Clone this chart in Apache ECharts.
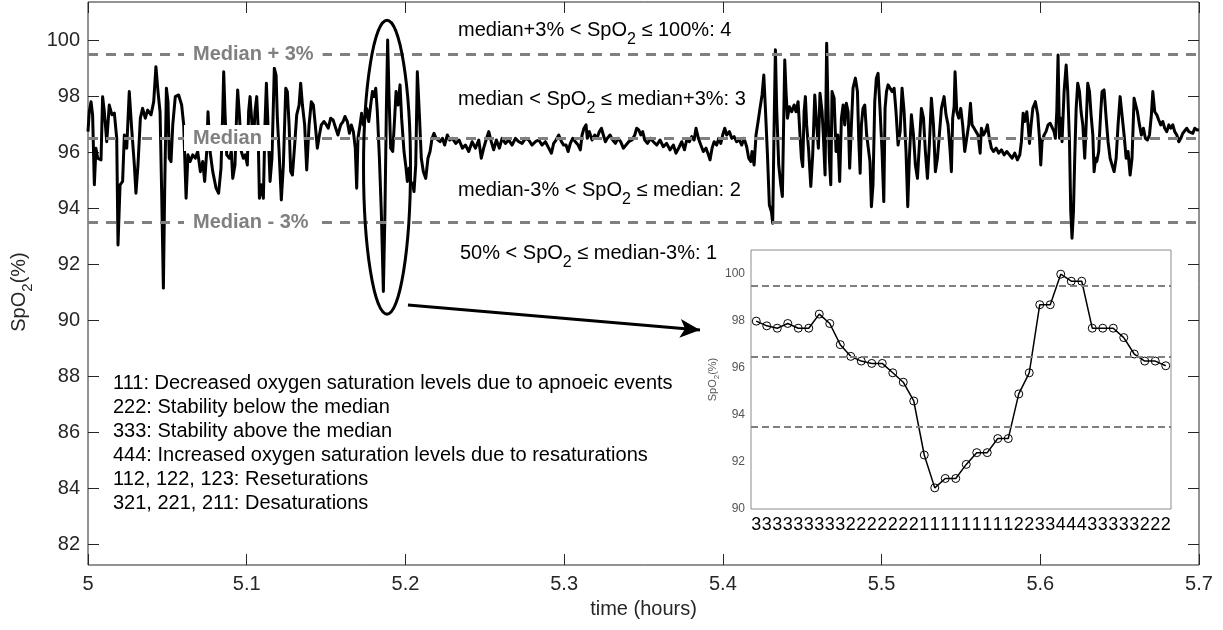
<!DOCTYPE html>
<html>
<head>
<meta charset="utf-8">
<title>SpO2</title>
<script src="https://cdn.jsdelivr.net/npm/echarts@6/dist/echarts.min.js"></script>
</head>
<body style="margin:0">
<div id="main" style="width:1223px;height:630px;"></div>
<script type="text/javascript">
// ---- data
var hours = [
  5.0000,5.0008,5.0019,5.0029,5.0040,5.0050,5.0061,5.0082,5.0092,5.0103,
  5.0118,5.0134,5.0151,5.0166,5.0181,5.0189,5.0202,5.0218,5.0229,5.0244,
  5.0260,5.0275,5.0292,5.0302,5.0315,5.0330,5.0344,5.0361,5.0376,5.0397,
  5.0414,5.0428,5.0441,5.0454,5.0464,5.0475,5.0483,5.0494,5.0504,5.0512,
  5.0523,5.0534,5.0550,5.0571,5.0590,5.0603,5.0618,5.0630,5.0643,5.0660,
  5.0676,5.0691,5.0708,5.0723,5.0735,5.0748,5.0756,5.0769,5.0786,5.0807,
  5.0823,5.0838,5.0849,5.0855,5.0863,5.0874,5.0891,5.0903,5.0912,5.0926,
  5.0937,5.0943,5.0954,5.0966,5.0979,5.0991,5.1004,5.1012,5.1021,5.1029,
  5.1042,5.1052,5.1063,5.1071,5.1080,5.1092,5.1105,5.1115,5.1124,5.1134,
  5.1147,5.1159,5.1174,5.1185,5.1193,5.1204,5.1218,5.1231,5.1246,5.1256,
  5.1267,5.1277,5.1288,5.1302,5.1315,5.1330,5.1340,5.1351,5.1365,5.1378,
  5.1393,5.1407,5.1420,5.1432,5.1445,5.1458,5.1470,5.1487,5.1502,5.1514,
  5.1529,5.1544,5.1561,5.1575,5.1592,5.1607,5.1619,5.1634,5.1647,5.1659,
  5.1672,5.1684,5.1693,5.1701,5.1714,5.1724,5.1735,5.1745,5.1756,5.1769,
  5.1781,5.1792,5.1802,5.1813,5.1823,5.1836,5.1848,5.1861,5.1871,5.1880,
  5.1888,5.1897,5.1907,5.1920,5.1932,5.1941,5.1953,5.1966,5.1976,5.1991,
  5.2004,5.2012,5.2023,5.2033,5.2046,5.2054,5.2065,5.2075,5.2088,5.2100,
  5.2113,5.2128,5.2142,5.2155,5.2168,5.2180,5.2193,5.2205,5.2218,5.2233,
  5.2247,5.2264,5.2279,5.2296,5.2317,5.2338,5.2359,5.2378,5.2399,5.2420,
  5.2441,5.2462,5.2478,5.2493,5.2508,5.2525,5.2541,5.2556,5.2573,5.2592,
  5.2609,5.2630,5.2651,5.2672,5.2693,5.2714,5.2735,5.2756,5.2777,5.2798,
  5.2819,5.2840,5.2861,5.2882,5.2903,5.2920,5.2934,5.2949,5.2966,5.2983,
  5.2997,5.3012,5.3025,5.3039,5.3054,5.3071,5.3088,5.3102,5.3113,5.3125,
  5.3138,5.3146,5.3159,5.3176,5.3193,5.3207,5.3222,5.3235,5.3247,5.3260,
  5.3272,5.3289,5.3306,5.3323,5.3340,5.3356,5.3373,5.3390,5.3407,5.3428,
  5.3445,5.3457,5.3470,5.3483,5.3495,5.3508,5.3525,5.3545,5.3562,5.3583,
  5.3604,5.3625,5.3646,5.3667,5.3688,5.3705,5.3726,5.3741,5.3758,5.3772,
  5.3789,5.3804,5.3819,5.3831,5.3846,5.3861,5.3877,5.3894,5.3909,5.3919,
  5.3932,5.3945,5.3961,5.3974,5.3987,5.3999,5.4012,5.4024,5.4041,5.4056,
  5.4071,5.4087,5.4104,5.4119,5.4134,5.4150,5.4163,5.4176,5.4184,5.4197,
  5.4209,5.4222,5.4234,5.4247,5.4258,5.4268,5.4281,5.4293,5.4306,5.4314,
  5.4323,5.4331,5.4339,5.4352,5.4365,5.4375,5.4381,5.4390,5.4398,5.4407,
  5.4419,5.4434,5.4449,5.4461,5.4474,5.4486,5.4495,5.4503,5.4512,5.4520,
  5.4528,5.4541,5.4554,5.4566,5.4579,5.4591,5.4602,5.4612,5.4625,5.4633,
  5.4644,5.4654,5.4663,5.4671,5.4680,5.4688,5.4701,5.4713,5.4724,5.4736,
  5.4747,5.4758,5.4768,5.4778,5.4789,5.4799,5.4810,5.4820,5.4835,5.4848,
  5.4856,5.4865,5.4873,5.4883,5.4894,5.4906,5.4919,5.4927,5.4936,5.4946,
  5.4957,5.4967,5.4978,5.4990,5.5003,5.5014,5.5022,5.5031,5.5041,5.5054,
  5.5066,5.5079,5.5091,5.5104,5.5117,5.5129,5.5142,5.5154,5.5165,5.5175,
  5.5188,5.5201,5.5213,5.5226,5.5238,5.5251,5.5264,5.5276,5.5289,5.5301,
  5.5314,5.5327,5.5339,5.5352,5.5364,5.5377,5.5394,5.5406,5.5419,5.5432,
  5.5440,5.5448,5.5457,5.5463,5.5474,5.5486,5.5499,5.5511,5.5524,5.5536,
  5.5549,5.5560,5.5570,5.5583,5.5595,5.5608,5.5621,5.5629,5.5642,5.5654,
  5.5667,5.5679,5.5692,5.5705,5.5722,5.5738,5.5755,5.5772,5.5789,5.5806,
  5.5822,5.5839,5.5856,5.5871,5.5881,5.5892,5.5902,5.5915,5.5923,5.5932,
  5.5942,5.5953,5.5969,5.5984,5.5995,5.6003,5.6011,5.6024,5.6036,5.6049,
  5.6062,5.6074,5.6087,5.6095,5.6104,5.6112,5.6121,5.6129,5.6137,5.6150,
  5.6163,5.6173,5.6184,5.6192,5.6200,5.6209,5.6217,5.6226,5.6236,5.6247,
  5.6257,5.6268,5.6280,5.6289,5.6299,5.6310,5.6320,5.6331,5.6339,5.6348,
  5.6356,5.6368,5.6381,5.6389,5.6402,5.6415,5.6427,5.6440,5.6452,5.6465,
  5.6478,5.6490,5.6503,5.6515,5.6528,5.6541,5.6553,5.6566,5.6578,5.6591,
  5.6599,5.6612,5.6625,5.6637,5.6650,5.6662,5.6675,5.6688,5.6700,5.6709,
  5.6721,5.6734,5.6746,5.6759,5.6772,5.6784,5.6797,5.6810,5.6822,5.6835,
  5.6847,5.6860,5.6873,5.6885,5.6898,5.6910,5.6923,5.6936,5.6948,5.6961,
  5.6973,5.6986,5.7000
];
var spo2 = [
  96.73,97.44,97.80,97.33,94.83,96.14,95.78,95.72,97.98,97.44,
  96.37,97.68,97.33,97.39,96.49,92.68,94.83,94.95,96.61,96.14,
  98.16,96.85,95.54,94.53,95.54,97.21,97.56,97.21,97.50,97.33,
  97.80,99.05,98.16,97.44,94.59,91.14,94.59,98.28,97.80,95.78,
  95.66,96.97,97.98,98.04,97.68,96.97,94.35,95.90,95.66,95.90,
  95.78,96.02,95.30,95.66,94.95,96.02,97.44,96.02,95.30,94.71,
  94.53,95.42,97.44,98.87,97.44,95.90,95.78,96.02,95.06,95.54,
  97.44,98.22,97.33,96.02,95.78,95.90,95.54,97.44,97.98,97.33,
  96.25,97.44,97.98,96.97,94.35,94.83,94.35,96.97,98.46,96.97,
  94.95,95.78,98.99,98.75,97.21,96.02,94.29,95.54,98.28,98.16,
  96.97,95.30,95.18,96.25,97.33,97.68,98.46,97.68,96.97,95.36,
  96.97,97.80,97.68,96.97,96.14,96.61,96.97,97.09,96.97,96.85,
  97.21,97.15,96.85,96.61,96.97,97.09,97.27,97.09,96.67,96.97,
  96.73,96.14,94.71,96.49,96.97,97.39,96.97,97.21,97.56,97.09,
  97.68,98.16,97.98,98.28,97.44,95.78,93.87,91.02,93.87,97.56,
  100.00,97.92,96.14,96.02,97.21,98.16,97.68,98.40,97.21,96.02,
  95.42,94.95,95.42,94.95,94.83,94.59,95.54,98.87,97.33,95.78,
  95.30,95.06,95.78,96.02,96.49,96.67,96.49,96.55,96.37,96.49,
  96.25,96.61,96.43,96.49,96.31,96.43,96.14,96.25,96.02,96.37,
  96.14,96.43,95.78,96.14,96.43,96.73,96.37,96.08,96.43,96.14,
  96.49,96.31,96.43,96.25,96.49,96.37,96.31,96.49,96.43,96.25,
  96.37,96.43,96.25,96.37,96.14,95.96,96.31,96.43,96.61,96.37,
  96.25,96.25,96.02,96.31,96.49,96.37,96.25,96.08,96.61,96.85,
  96.97,96.49,96.73,96.43,96.61,96.49,96.73,96.85,96.61,96.37,
  96.49,96.61,96.43,96.31,96.49,96.37,96.14,96.25,96.37,96.43,
  96.61,96.85,96.79,96.61,96.73,96.43,96.31,96.49,96.37,96.25,
  96.43,96.19,96.31,96.08,96.25,95.96,96.19,96.37,96.08,96.43,
  96.37,96.55,96.43,96.85,96.49,96.25,96.02,96.14,95.90,95.72,
  96.14,96.37,96.25,96.49,96.31,96.61,96.85,96.61,96.73,96.49,
  96.55,96.37,96.43,96.25,96.49,96.19,95.78,95.66,96.02,95.54,
  96.61,97.09,97.56,98.04,98.75,97.56,95.90,94.11,93.87,93.46,
  96.97,99.65,97.56,95.54,94.83,94.41,96.37,99.29,98.16,97.21,
  97.62,97.44,97.68,97.44,97.80,96.61,95.78,95.48,97.44,97.98,
  96.97,96.02,94.77,95.90,98.04,96.97,96.14,98.10,97.44,96.61,
  95.18,99.89,97.44,95.78,94.83,98.16,97.92,96.02,96.61,94.95,
  97.21,97.68,96.97,97.74,97.44,95.42,96.97,98.28,98.64,98.16,
  96.49,95.24,96.97,97.56,97.68,96.61,96.02,95.66,94.05,94.83,
  97.80,98.64,98.81,97.56,96.02,94.23,97.56,98.16,98.40,98.28,
  98.16,98.28,97.44,96.25,96.73,98.28,97.44,96.02,94.05,95.78,
  97.33,96.61,95.54,95.06,96.25,97.56,97.21,96.02,95.06,96.25,
  97.92,96.97,95.30,95.78,96.61,97.56,97.98,97.33,96.97,96.02,
  95.30,97.21,97.62,98.87,97.44,97.21,97.56,96.97,96.02,95.96,
  96.97,97.74,96.97,96.85,96.73,96.61,95.96,96.85,96.61,96.73,
  96.97,96.49,96.14,96.02,96.14,95.96,96.08,95.90,96.02,95.90,
  95.78,95.96,95.72,95.90,96.37,97.39,97.09,97.44,96.97,96.31,
  96.97,97.56,97.80,97.33,96.49,95.54,96.37,96.61,96.73,96.97,
  97.03,97.09,96.73,96.49,97.44,99.47,96.49,97.21,96.37,98.16,
  99.11,98.16,96.37,93.87,92.92,93.87,95.78,97.56,98.46,98.16,
  97.44,96.97,95.78,96.97,98.46,98.16,97.33,96.61,95.30,95.78,
  95.66,96.02,97.44,98.16,98.22,97.21,96.37,95.78,95.54,95.30,
  95.78,96.97,97.98,97.92,96.61,95.78,96.02,95.18,95.78,97.92,
  97.86,97.44,96.97,96.61,96.85,96.49,96.43,96.61,97.33,98.16,
  97.44,97.33,97.15,96.97,97.09,96.85,96.73,96.97,96.85,96.97,
  96.73,96.61,96.37,96.49,96.67,96.73,96.85,96.73,96.79,96.67,
  96.85,96.79,96.80
];

var thresholds = [99.5, 96.5, 93.5];
var thresholdNames = ['Median + 3%', 'Median', 'Median - 3%'];
var thresholdLabelAt = 5.0605;

// zoomed-in event (one sample per second)
var insetValues = [98.0,97.8,97.7,97.9,97.7,97.7,98.3,97.9,97.0,96.5,
                   96.3,96.2,96.2,95.8,95.4,94.6,92.3,90.9,91.3,91.3,
                   91.9,92.4,92.4,93.0,93.0,94.9,95.8,98.7,98.7,100.0,
                   99.7,99.7,97.7,97.7,97.7,97.3,96.6,96.3,96.3,96.1];
var insetCodes = ['3','3','3','3','3','3','3','3','3','2',
                  '2','2','2','2','2','2','1','1','1','1',
                  '1','1','1','1','1','2','2','3','3','4',
                  '4','4','3','3','3','3','3','2','2','2'];

var bandTexts = [
  ['median+3% < SpO', '2', ' \u2264 100%: 4'],
  ['median < SpO', '2', ' \u2264 median+3%: 3'],
  ['median-3% < SpO', '2', ' \u2264 median: 2'],
  ['50% < SpO', '2', ' \u2264 median-3%: 1']
];
var notes = [
  '111: Decreased oxygen saturation levels due to apnoeic events',
  '222: Stability below the median',
  '333: Stability above the median',
  '444: Increased oxygen saturation levels due to resaturations',
  '112, 122, 123: Reseturations',
  '321, 221, 211: Desaturations'
];

var ellipseCenter = [5.1884, 95.46];
var ellipseRadius = [0.0148, 5.25];
var arrowFrom = [5.2016, 90.54];
var arrowTo = [5.3856, 89.64];

// ---- chart
var font = '"Liberation Sans", Arial, Helvetica, sans-serif';
var ink = '#262626';
var grey = '#808080';

var traceData = [];
for (var i = 0; i < Math.min(hours.length, spo2.length); i++) {
  traceData.push([hours[i], spo2[i]]);
}

var myChart = echarts.init(document.getElementById('main'));

function isEven(v) {
  return Math.abs(v - Math.round(v)) < 1e-6;
}

var option = {
  animation: false,
  textStyle: { fontFamily: font },
  grid: [
    { left: 88, right: 24, top: 2, bottom: 65, show: true, borderColor: ink, borderWidth: 1 },
    { left: 88, right: 24, top: 40, bottom: 86 },
    { left: 751, width: 420, top: 250, height: 259, show: true, backgroundColor: '#fff', borderColor: '#8c8c8c', borderWidth: 1 }
  ],
  xAxis: [
    {
      gridIndex: 0, type: 'value', min: 5, max: 5.7, interval: 0.1,
      axisLine: { show: false },
      axisTick: { inside: true, length: 11, lineStyle: { color: ink } },
      splitLine: { show: false },
      axisLabel: { fontSize: 20, color: ink, margin: 9, formatter: function (v) { return String(+v.toFixed(1)); } },
      name: 'time (hours)', nameLocation: 'middle', nameGap: 34,
      nameTextStyle: { fontSize: 20, color: ink }
    },
    {
      gridIndex: 0, type: 'value', position: 'top', min: 5, max: 5.7, interval: 0.1,
      axisLine: { show: false },
      axisTick: { inside: true, length: 11, lineStyle: { color: ink } },
      axisLabel: { show: false }, splitLine: { show: false }
    },
    { gridIndex: 1, type: 'value', min: 0, max: 1, show: false },
    {
      gridIndex: 2, type: 'category', data: insetCodes, boundaryGap: true,
      axisLine: { show: false }, axisTick: { show: false },
      axisLabel: { interval: 0, fontSize: 18, color: '#000', margin: 7 }
    }
  ],
  yAxis: [
    {
      gridIndex: 0, type: 'value', min: 81.25, max: 101.36,
      axisLine: { show: false }, axisTick: { show: false },
      axisLabel: { show: false }, splitLine: { show: false }
    },
    {
      gridIndex: 1, type: 'value', min: 82, max: 100, interval: 2,
      axisLine: { show: false },
      axisTick: { inside: true, length: 11, lineStyle: { color: ink } },
      axisLabel: { fontSize: 20, color: ink, margin: 8 },
      splitLine: { show: false },
      name: '{a|SpO}{s|2}{a|(%)}', nameLocation: 'middle', nameGap: 46,
      nameTextStyle: {
        color: ink,
        rich: { a: { fontSize: 20, color: ink }, s: { fontSize: 15, color: ink, padding: [17, 0, 0, 0] } }
      }
    },
    {
      gridIndex: 1, type: 'value', position: 'right', min: 82, max: 100, interval: 2,
      axisLine: { show: false },
      axisTick: { inside: true, length: 11, lineStyle: { color: ink } },
      axisLabel: { show: false }, splitLine: { show: false }
    },
    {
      gridIndex: 2, type: 'value', min: 90, max: 101.03, interval: 2,
      axisLine: { show: false },
      axisTick: { inside: true, length: 4, lineStyle: { color: '#8c8c8c' } },
      axisLabel: { fontSize: 12, color: '#555', margin: 6, formatter: function (v) { return isEven(v) ? String(Math.round(v)) : ''; } },
      splitLine: { show: false },
      name: '{a|SpO}{s|2}{a|(%)}', nameLocation: 'middle', nameGap: 24,
      nameTextStyle: {
        color: '#555',
        rich: { a: { fontSize: 11, color: '#555' }, s: { fontSize: 8, color: '#555', padding: [9, 0, 0, 0] } }
      }
    },
    {
      gridIndex: 2, type: 'value', position: 'right', min: 90, max: 101.03, interval: 2,
      axisLine: { show: false },
      axisTick: { inside: true, length: 4, lineStyle: { color: '#8c8c8c' } },
      axisLabel: { show: false }, splitLine: { show: false }
    }
  ],
  series: [
    {
      name: 'SpO2', type: 'line', xAxisIndex: 0, yAxisIndex: 0,
      data: traceData, showSymbol: false, symbol: 'none', silent: true,
      lineStyle: { color: '#000', width: 3, join: 'round' }, z: 2
    },
    {
      name: 'levels', type: 'line', xAxisIndex: 0, yAxisIndex: 0, data: [], z: 3,
      markLine: {
        silent: true, symbol: 'none', label: { show: false },
        lineStyle: { color: grey, width: 3, type: [10, 8] },
        data: thresholds.map(function (v) { return { yAxis: v }; })
      }
    },
    {
      name: 'arrow', type: 'line', xAxisIndex: 0, yAxisIndex: 0, data: [], z: 4,
      markLine: {
        silent: true, symbol: ['none', 'arrow'], symbolSize: [14, 20], label: { show: false },
        lineStyle: { color: '#000', width: 3, type: 'solid' },
        data: [[{ coord: arrowFrom }, { coord: arrowTo }]]
      }
    },
    {
      name: 'inset levels', type: 'line', xAxisIndex: 3, yAxisIndex: 3, data: [], z: 3,
      markLine: {
        silent: true, symbol: 'none', label: { show: false },
        lineStyle: { color: grey, width: 2, type: [7, 4] },
        data: thresholds.map(function (v) { return { yAxis: v }; })
      }
    },
    {
      name: 'inset', type: 'line', xAxisIndex: 3, yAxisIndex: 3, z: 4,
      data: insetValues, symbol: 'circle', symbolSize: 8, showSymbol: true,
      itemStyle: { color: 'transparent', borderColor: '#000', borderWidth: 1 },
      lineStyle: { color: '#000', width: 1.5 }
    }
  ]
};

myChart.setOption(option);

// annotations
var graphics = [];

// level names on white boxes, placed through the main axes
thresholds.forEach(function (v, k) {
  var p = myChart.convertToPixel({ xAxisIndex: 0, yAxisIndex: 0 }, [thresholdLabelAt, v]);
  graphics.push({
    type: 'text', x: p[0], y: p[1], z: 30,
    style: {
      text: thresholdNames[k], fontSize: 20, fontWeight: 'bold', fontFamily: font,
      fill: grey, backgroundColor: '#fff', padding: [3, 9, 3, 9],
      align: 'left', verticalAlign: 'middle'
    }
  });
});

var bandPos = [[458, 30], [458, 99], [458, 190], [460, 253]];
bandTexts.forEach(function (t, k) {
  graphics.push({
    type: 'text', x: bandPos[k][0], y: bandPos[k][1], z: 20,
    style: {
      text: '{a|' + t[0] + '}{s|' + t[1] + '}{a|' + t[2] + '}',
      rich: { a: { fontSize: 20, fill: '#000', fontFamily: font }, s: { fontSize: 16, fill: '#000', fontFamily: font, padding: [19, 0, 0, 0] } },
      verticalAlign: 'middle', align: 'left'
    }
  });
});
graphics.push({
  type: 'text', x: 113, y: 371, z: 20,
  style: {
    text: notes.join('\n'), fontSize: 20, fontFamily: font, fill: '#000',
    lineHeight: 24, verticalAlign: 'top', align: 'left'
  }
});

var c = myChart.convertToPixel({ xAxisIndex: 0, yAxisIndex: 0 }, ellipseCenter);
var e = myChart.convertToPixel({ xAxisIndex: 0, yAxisIndex: 0 },
  [ellipseCenter[0] + ellipseRadius[0], ellipseCenter[1] + ellipseRadius[1]]);
graphics.push({
  type: 'ellipse', z: 20,
  shape: { cx: c[0], cy: c[1], rx: Math.abs(e[0] - c[0]), ry: Math.abs(e[1] - c[1]) },
  style: { fill: 'none', stroke: '#000', lineWidth: 3 }
});

myChart.setOption({ graphic: graphics });
</script>
</body>
</html>
